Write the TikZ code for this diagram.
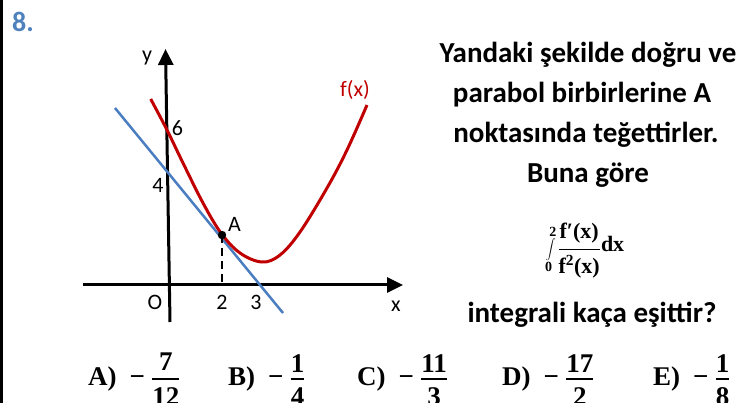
\RequirePackage{fix-cm}
\documentclass[tikz,border=0pt]{standalone}
\usepackage{amsmath}
\usepackage[no-math]{fontspec}
\setmainfont{Carlito}
\newfontfamily\answerfont{Liberation Serif}
\usetikzlibrary{arrows.meta}

\definecolor{numblue}{RGB}{79,129,189}
\definecolor{tanblue}{RGB}{74,126,193}
\definecolor{parared}{RGB}{192,0,0}

% one answer choice: letter, numerator, denominator
\newcommand{\choice}[3]{{\answerfont\bfseries #1)}\hspace{13pt}{\answerfont\bfseries −}\hspace{6pt}$\genfrac{}{}{2.4pt}{0}{\raisebox{-5pt}[0pt][0pt]{\answerfont\bfseries #2}}{\mbox{\answerfont\bfseries #3}}$}
\newcommand{\serifb}[2]{\mbox{\answerfont\bfseries\fontsize{#1}{#1}\selectfont #2}}
\newsavebox{\intbox}

\begin{document}
% the integral in the question
\sbox{\intbox}{$\displaystyle\int\limits_{\serifb{14}{0}}^{\serifb{14}{2}}\genfrac{}{}{1.8pt}{0}{\serifb{22}{f′(x)}}{\serifb{22}{f\textsuperscript{2}(x)}}\serifb{22}{dx}$}%
\begin{tikzpicture}[x=1pt,y=-1pt,
	axis/.style={line width=3pt, -{Triangle[length=16pt,width=15pt]}},
	lbl/.style={font=\fontsize{22}{26}\selectfont, inner sep=0pt},
	qtext/.style={font=\fontsize{29}{34}\selectfont\bfseries, anchor=base, inner sep=0pt},
	opt/.style={font=\fontsize{27}{30}\selectfont, anchor=base west, inner sep=0pt}]
	\useasboundingbox (0,0) rectangle (756,403);
	\coordinate (O) at (169,285);
	\coordinate (xs) at (83,285);
	\coordinate (xe) at (403,285);
	\coordinate (ys) at (170,322);
	\coordinate (ye) at (165.5,49);
	\coordinate (T1) at (115,108);
	\coordinate (T2) at (283,313);
	\coordinate (A) at (222,235);
	
	% Frame and question number
	\draw[line width=3pt] (1.5,0) -- (1.5,403);
	\node[font=\fontsize{28}{30}\selectfont\bfseries, text=numblue, inner sep=0pt] (qnum) at (23,22) {8.};
	
	% Axes, tangent line and parabola
	\draw[axis] (xs) -- (xe);
	\draw[axis] (ys) -- (ye);
	\draw[tanblue, line width=2.5pt] (T1) -- (T2);
	\draw[parared, line width=3pt] plot[smooth, tension=0.6] coordinates {(150.7,99) (167,130) (183,163) (203,203) (221,233) (240,253) (262,262) (280,255) (300,232) (327,188) (347,150) (367,105)};
	\draw[line width=1.5pt, dash pattern=on 8pt off 5pt] (A) -- (A |- O);
	\fill (A) circle (4.2pt);
	
	\node[lbl] (ylab) at (147,58) {y};
	\node[lbl] (xlab) at (396,306) {x};
	\node[lbl] (olab) at (155,302) {O};
	\node[lbl] (two) at (222,302) {2};
	\node[lbl] (three) at (256,302) {3};
	\node[lbl] (four) at (158,185) {4};
	\node[lbl] (six) at (177.5,128.5) {6};
	\node[lbl] (alab) at (234.5,224.5) {A};
	\node[lbl, text=parared] (flab) at (355,90) {f(x)};
	
	% Question text
	\node[qtext] (line1) at (588,63) {Yandaki şekilde doğru ve};
	\node[qtext] (line2) at (582,103) {parabol birbirlerine A};
	\node[qtext] (line3) at (586,143) {noktasında teğettirler.};
	\node[qtext] (line4) at (588,183) {Buna göre};
	\node[anchor=base, inner sep=0pt] (integ) at (585,252) {\usebox{\intbox}};
	\node[qtext] (line5) at (592,323) {integrali kaça eşittir?};
	
	% Answer choices
	\node[opt] (optA) at (88,386) {\choice{A}{7}{12}};
	\node[opt] (optB) at (228,386) {\choice{B}{1}{4}};
	\node[opt] (optC) at (357,386) {\choice{C}{11}{3}};
	\node[opt] (optD) at (502,386) {\choice{D}{17}{2}};
	\node[opt] (optE) at (653,386) {\choice{E}{1}{8}};
\end{tikzpicture}
\end{document}
